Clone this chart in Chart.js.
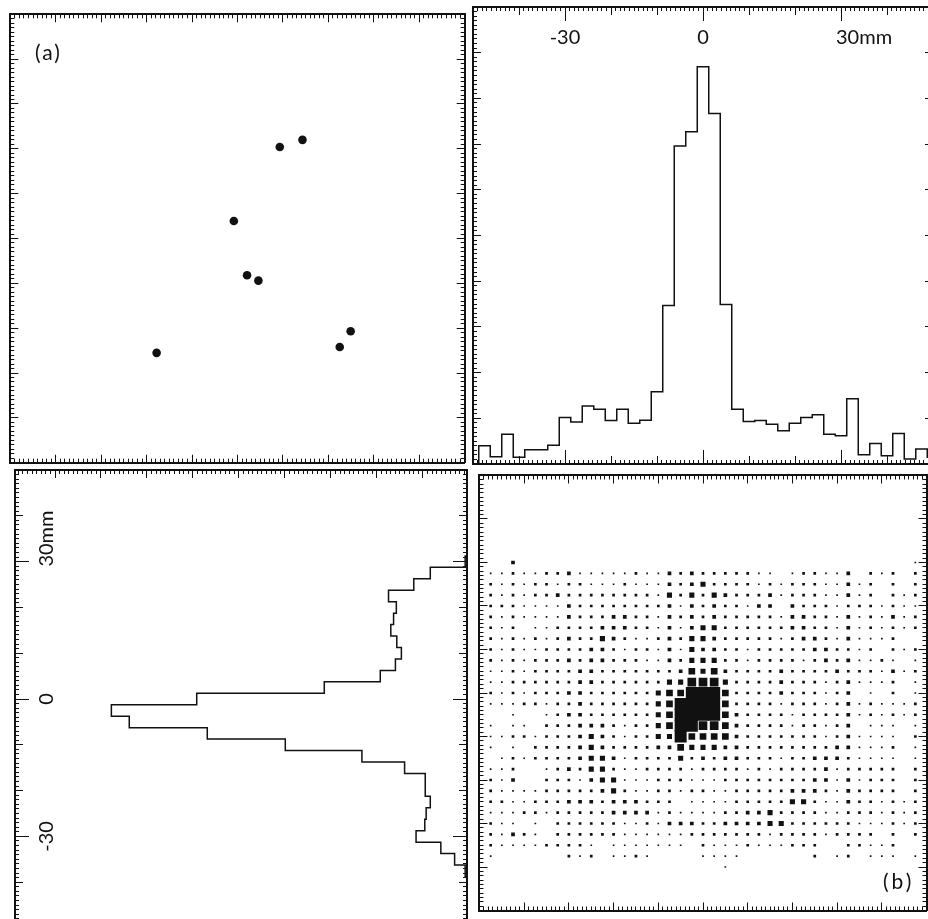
<!DOCTYPE html>
<html lang="pt-BR">
<head>
    <meta charset="UTF-8">
    <meta name="viewport" content="width=device-width, initial-scale=1.0">
    <title>Distribuição dos eventos</title>
    <script src="https://cdn.jsdelivr.net/npm/chart.js"></script>
    <style>
        html, body { margin: 0; padding: 0; width: 928px; height: 919px; overflow: hidden; background: #fff; }
        .painel { position: absolute; }
        .rotulo { position: absolute; font-family: Lato, sans-serif; font-size: 21px; line-height: 1; color: #111; }
    </style>
</head>
<body>
    <div class="painel" style="left:6px; top:10px; width:463px; height:457px;"><canvas id="graficoA"></canvas></div>
    <div class="painel" style="left:471px; top:5px; width:464px; height:461px;"><canvas id="graficoX"></canvas></div>
    <div class="painel" style="left:13px; top:468px; width:456px; height:462px;"><canvas id="graficoY"></canvas></div>
    <div class="painel" style="left:471px; top:467px; width:464px; height:452px;"><canvas id="graficoB"></canvas></div>

    <div class="rotulo" style="left:35px; top:41px; letter-spacing:2px;">(a)</div>
    <div class="rotulo" style="left:883px; top:870px; letter-spacing:3px;">(b)</div>

<script>
    // (a) posição de cada evento, em mm
    const eventosX = [-17.8, -0.8, 2.1, 4.6, 9.3, 14.3, 22.5, 24.9];
    const eventosY = [-25.5, 3.9, -8.2, -9.4, 20.4, 22.0, -24.2, -20.7];

    // projeção em x: centro do bin (mm) e contagem (escala 0..100 do painel)
    const binsX = [-50, -47.5, -45, -42.5, -40, -37.5, -35, -32.5, -30, -27.5, -25, -22.5, -20, -17.5,
        -15, -12.5, -10, -7.5, -5, -2.5, 0, 2.5, 5, 7.5, 10, 12.5, 15, 17.5, 20, 22.5, 25, 27.5,
        30, 32.5, 35, 37.5, 40, 42.5, 45, 47.5, 50];
    const contagemX = [0, 4.0, 1.6, 6.5, 1.5, 3.1, 3.1, 4.1, 10.2, 9.2, 12.7, 12.0, 9.5, 12.0,
        8.9, 9.6, 15.8, 34.7, 69.6, 72.7, 86.9, 76.7, 34.9, 12.0, 9.3, 9.5, 8.7, 7.3, 8.9, 10.2, 10.8, 6.5,
        6.2, 14.3, 2.0, 4.5, 1.8, 6.7, 1.1, 3.3, 1.5];

    // projeção em y
    const binsY = [50, 47.5, 45, 42.5, 40, 37.5, 35, 32.5, 30, 27.5, 25, 22.5, 20, 17.5,
        15, 12.5, 10, 7.5, 5, 2.5, 0, -2.5, -5, -7.5, -10, -12.5, -15, -17.5, -20, -22.5, -25, -27.5,
        -30, -32.5, -35, -37.5, -40, -42.5, -45, -47.5, -50];
    const contagemY = [0, 0, 0, 0, 0, 0, 0, 0, 0.4, 8.0, 11.6, 17.1, 15.4, 16.0,
        16.6, 15.3, 14.3, 15.6, 18.9, 31.1, 58.9, 77.5, 73.6, 56.6, 39.6, 22.9, 13.6, 9.1, 9.1, 8.0, 8.9, 9.2,
        11.1, 5.7, 2.7, 0.4, 0, 0, 0, 0, 0];

    const larguraBin = 2.5;

    // (b) mapa: colunas e linhas (mm) e nível de cada célula (0 = vazia), uma string por linha
    const colunasB = [-47.5, -45, -42.5, -40, -37.5, -35, -32.5, -30, -27.5, -25, -22.5, -20, -17.5,
        -15, -12.5, -10, -7.5, -5, -2.5, 0, 2.5, 5, 7.5, 10, 12.5, 15, 17.5, 20, 22.5, 25,
        27.5, 30, 32.5, 35, 37.5, 40, 42.5, 45, 47.5];
    const linhasB = [30, 27.5, 25, 22.5, 20, 17.5, 15, 12.5, 10, 7.5, 5, 2.5, 0, -2.5, -5, -7.5,
        -10, -12.5, -15, -17.5, -20, -22.5, -25, -27.5, -30, -32.5, -35, -37.5, -40];
    const niveisB = [
        "003000000000000000000000000000000000001",
        "112112231111121132322222110122113021202",
        "212122122111211132342222121222113120202",
        "212122322222222142424322231222113120212",
        "222111132222222231323221330322212221211",
        "212111132223322132323222221332213121312",
        "212011222233322131344222222332213121212",
        "212121232243211232443222221233213111200",
        "212112222332122131433221222223322120212",
        "212122232332221132444221222212323112101",
        "112122223322222223545322223222232221312",
        "112222223322222244666422223222123111201",
        "212122233222222455777522223222123010201",
        "111221223222222457777522221222123121112",
        "001001233222222457777532222122223121212",
        "101102223332122457766532222122123011101",
        "112212223432122447555532222222123111102",
        "101022223432222335444332222222233111201",
        "012122223443122224232332221223332111101",
        "112001232442112222122221212222312222202",
        "213002221344111222111222222223313122202",
        "211112222234211221221122222333213222202",
        "221122233323332220111122222442113221212",
        "111221222223333121111223342222112221212",
        "211010222222112133322333344222222111212",
        "213210222222111111222222212222122220202",
        "211112222101111111021112111222002211200",
        "100000021201121000011110000002012011101",
        "000000000000000000000100000000000000000"
    ];

    // marcas com texto
    const marcasEixo = [-30, 0, 30];
    const textosEixo = ['-30', '0', '30mm'];

    // lado do quadrado (px) para cada nível do mapa
    const ladoNivel = [0, 1.7, 2.7, 3.7, 5.1, 6.7, 8.7, 12];

    const preto = '#111';
    const fonteRotulo = { family: 'Lato, sans-serif', size: 20 };

    function valoresEntre(min, max, passo) {
        const valores = [];
        for (let k = Math.ceil(min / passo - 1e-9); k * passo <= max + 1e-9; k++) {
            valores.push(k * passo);
        }
        return valores;
    }

    function textoMarca(valor) {
        const texto = textosEixo[marcasEixo.indexOf(valor)];
        // espaços antes para o número ficar centrado na marca e a unidade sobrar para o lado
        return texto.endsWith('mm') ? '         ' + texto : texto;
    }

    // eixo que só desenha marcas para dentro da moldura, sem ocupar espaço
    function eixoMarcas(lado, min, max, valores, comprimento, ticksExtra) {
        const horizontal = lado === 'top' || lado === 'bottom';
        return {
            type: 'linear',
            position: lado,
            min: min,
            max: max,
            afterBuildTicks: function (escala) {
                escala.ticks = valores.map(v => ({ value: v }));
            },
            afterFit: function (escala) {
                if (horizontal) escala.height = 0;
                else escala.width = 0;
            },
            grid: {
                display: true, drawOnChartArea: false, drawTicks: true,
                tickLength: -comprimento, color: preto, tickColor: preto, tickWidth: 1
            },
            border: { display: true, color: preto, width: 2 },
            ticks: ticksExtra || { display: false }
        };
    }

    function moldura(lados) {
        const escalas = {};
        for (const lado in lados) {
            const cfg = lados[lado];
            escalas[lado + 'Menor'] = eixoMarcas(lado, cfg.min, cfg.max, valoresEntre(cfg.min, cfg.max, 1), 4);
            escalas[lado + 'Maior'] = eixoMarcas(lado, cfg.min, cfg.max, valoresEntre(cfg.min, cfg.max, 10), 8);
            if (cfg.longas) {
                escalas[lado + 'Longa'] = eixoMarcas(lado, cfg.min, cfg.max, cfg.longas, 14, cfg.rotulos);
            }
        }
        return escalas;
    }

    function opcoesBase(escalas) {
        return {
            responsive: true,
            maintainAspectRatio: false,
            animation: false,
            devicePixelRatio: 1,
            layout: { padding: 2 },
            plugins: { legend: { display: false }, tooltip: { enabled: false } },
            scales: escalas
        };
    }

    const rotulosTopo = {
        display: true, mirror: true, padding: 19, font: fonteRotulo, color: preto,
        autoSkip: false, minRotation: 0, maxRotation: 0, callback: textoMarca
    };
    const rotulosEsquerda = {
        display: true, mirror: true, crossAlign: 'center', padding: -20, font: fonteRotulo, color: preto,
        autoSkip: false, minRotation: 90, maxRotation: 90, callback: textoMarca
    };

    const mm = { min: -50, max: 50 };

    // (a) eventos individuais
    new Chart(document.getElementById('graficoA'), {
        type: 'scatter',
        data: {
            datasets: [{
                data: eventosX.map((x, i) => ({ x: x, y: eventosY[i] })),
                pointRadius: 4.3,
                pointBackgroundColor: preto,
                pointBorderWidth: 0,
                xAxisID: 'x', yAxisID: 'y'
            }]
        },
        options: opcoesBase(Object.assign({
            x: { type: 'linear', display: false, min: -50, max: 50 },
            y: { type: 'linear', display: false, min: -50, max: 50 }
        }, moldura({ top: mm, bottom: mm, left: mm, right: mm })))
    });

    // projeção em x (histograma em degraus)
    new Chart(document.getElementById('graficoX'), {
        type: 'line',
        data: {
            datasets: [{
                data: binsX.map((x, i) => ({ x: x, y: contagemX[i] })),
                stepped: 'middle',
                borderColor: preto,
                borderWidth: 1.5,
                pointRadius: 0,
                fill: false,
                xAxisID: 'x', yAxisID: 'y'
            }]
        },
        options: opcoesBase(Object.assign({
            x: { type: 'linear', display: false, min: -50, max: 50 },
            y: { type: 'linear', display: false, min: 0, max: 100 }
        }, moldura({
            top: { min: -50, max: 50, longas: marcasEixo, rotulos: rotulosTopo },
            bottom: { min: -50, max: 50, longas: marcasEixo },
            left: { min: 0, max: 100 },
            right: { min: 0, max: 100 }
        })))
    });

    // projeção em y: contorno dos bins na vertical, contagem crescendo para a esquerda
    const contornoY = [];
    binsY.forEach((centro, i) => {
        contornoY.push({ x: contagemY[i], y: centro + larguraBin / 2 });
        contornoY.push({ x: contagemY[i], y: centro - larguraBin / 2 });
    });

    new Chart(document.getElementById('graficoY'), {
        type: 'scatter',
        data: {
            datasets: [{
                data: contornoY,
                showLine: true,
                borderColor: preto,
                borderWidth: 1.5,
                pointRadius: 0,
                xAxisID: 'x', yAxisID: 'y'
            }]
        },
        options: opcoesBase(Object.assign({
            x: { type: 'linear', display: false, min: 0, max: 98.5, reverse: true },
            y: { type: 'linear', display: false, min: -50, max: 50 }
        }, moldura({
            top: { min: 1.3, max: 99.6 },
            bottom: { min: 0.2, max: 98.7 },
            left: { min: -50, max: 50, longas: marcasEixo, rotulos: rotulosEsquerda },
            right: { min: -50, max: 50, longas: marcasEixo }
        })))
    });

    // (b) mapa de quadrados
    const pontosB = [];
    niveisB.forEach((linha, i) => {
        for (let j = 0; j < colunasB.length; j++) {
            const nivel = parseInt(linha[j] || '0');
            if (nivel > 0) {
                pontosB.push({ x: colunasB[j], y: linhasB[i], r: ladoNivel[nivel] / Math.SQRT2 });
            }
        }
    });

    new Chart(document.getElementById('graficoB'), {
        type: 'bubble',
        data: {
            datasets: [{
                data: pontosB,
                pointStyle: 'rect',
                backgroundColor: preto,
                borderWidth: 0,
                hoverRadius: 0,
                xAxisID: 'x', yAxisID: 'y'
            }]
        },
        options: opcoesBase(Object.assign({
            x: { type: 'linear', display: false, min: -50, max: 50 },
            y: { type: 'linear', display: false, min: -50, max: 50 }
        }, moldura({ top: mm, bottom: mm, left: mm, right: mm })))
    });
</script>
</body>
</html>
